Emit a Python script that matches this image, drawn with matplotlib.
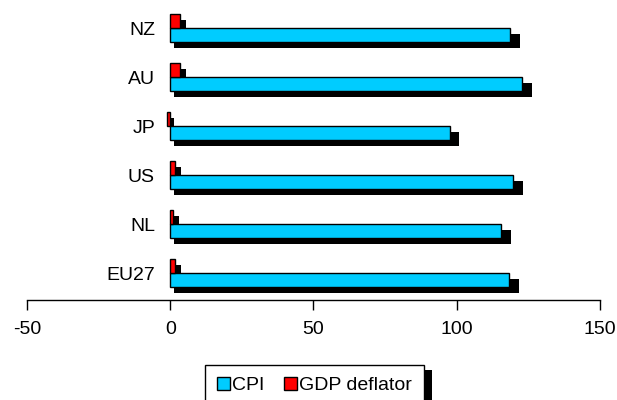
import matplotlib
matplotlib.use('Agg')
import matplotlib.pyplot as plt
import matplotlib.transforms as mtransforms
from matplotlib.patches import Rectangle, Patch

plt.rcParams['font.family'] = ['Liberation Sans', 'DejaVu Sans']
plt.rcParams['font.size'] = 14
plt.rcParams['axes.unicode_minus'] = False

# data (bottom to top)
countries = ['EU27', 'NL', 'US', 'JP', 'AU', 'NZ']
cpi = [118.2, 115.4, 119.6, 97.5, 122.7, 118.5]
gdp_deflator = [1.8, 1.0, 1.8, -1.0, 3.5, 3.5]

cpi_color = '#00CCFF'
gdp_color = '#FF0000'

fig = plt.figure(figsize=(6.17, 4), dpi=100)
ax = fig.add_axes([0.0438, 0.25, 0.9286, 0.74])

y = list(range(len(countries)))
h = 0.28
off = 0.145

# black drop shadows, shifted a few pixels right and down
shift = ax.transData + mtransforms.ScaledTranslation(4 / 100, -6 / 100, fig.dpi_scale_trans)
shadow_w = lambda v: v * 1.012 + (0.7 if v >= 0 else 0)
ax.barh([i - off for i in y], [shadow_w(v) for v in cpi], h, color='black',
        transform=shift, zorder=1)
ax.barh([i + off for i in y], [shadow_w(v) for v in gdp_deflator], h, color='black',
        transform=shift, zorder=1)

ax.barh([i - off for i in y], cpi, h, color=cpi_color, edgecolor='black',
        linewidth=1, zorder=2)
ax.barh([i + off for i in y], gdp_deflator, h, color=gdp_color, edgecolor='black',
        linewidth=1, zorder=2)

ax.set_xlim(-50, 150)
ax.set_ylim(-0.55, 5.49)
ax.set_xticks([-50, 0, 50, 100, 150])
ax.set_yticks(y)
ax.set_yticklabels(countries)

for s in ['top', 'right']:
    ax.spines[s].set_visible(False)
ax.spines['left'].set_position(('data', 0))
ax.spines['left'].set_color('none')
ax.tick_params(axis='y', length=0, pad=11)
ax.tick_params(axis='x', direction='out', length=7, width=1, pad=8)
ax.spines['bottom'].set_linewidth(1)

handles = [Patch(facecolor=cpi_color, edgecolor='black', label='CPI'),
           Patch(facecolor=gdp_color, edgecolor='black', label='GDP deflator')]
leg = fig.legend(handles=handles, loc='upper left', bbox_to_anchor=(0.332, 0.0875),
                 bbox_transform=fig.transFigure, ncol=2, frameon=True, fancybox=False,
                 framealpha=1, borderaxespad=0, handlelength=0.7, handleheight=0.7,
                 handletextpad=0.1, columnspacing=1.0, borderpad=0.6)
leg.get_frame().set_edgecolor('black')
leg.get_frame().set_linewidth(1)
leg.set_zorder(5)

# legend drop shadow
fig.canvas.draw()
bb = leg.get_window_extent()
fig.patches.append(Rectangle((bb.x0 + 8, bb.y0 - 5), bb.width, bb.height,
                             transform=mtransforms.IdentityTransform(),
                             facecolor='black', zorder=4, figure=fig))

fig.savefig('out.png', dpi=100)
